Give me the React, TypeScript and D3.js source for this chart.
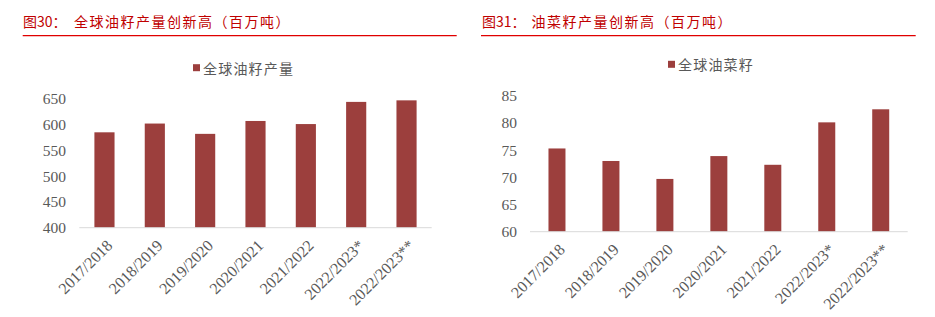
import React from "react";
import * as d3 from "d3";

const categories = ["2017/2018", "2018/2019", "2019/2020", "2020/2021", "2021/2022", "2022/2023*", "2022/2023**"];
const oilseedValues = [585, 602, 582, 607, 601, 644, 647];
const rapeseedValues = [75.3, 73.0, 69.7, 73.9, 72.3, 80.1, 82.5];
const oilseedTicks = [400, 450, 500, 550, 600, 650];
const rapeseedTicks = [60, 65, 70, 75, 80, 85];
const leftTitleNo = "图30：";
const leftTitle = "全球油籽产量创新高（百万吨）";
const rightTitleNo = "图31：";
const rightTitle = "油菜籽产量创新高（百万吨）";
const leftLegend = "全球油籽产量";
const rightLegend = "全球油菜籽";

const BAR = "#9c3f3d";
const GRAY = "#595959";
const TITLE_RED = "#c00000";
const LINE_RED = "#e00000";
const CJK = "'Noto Sans CJK SC', sans-serif";
const SERIF = "'Liberation Serif', 'Times New Roman', 'DejaVu Serif', serif";

type PanelProps = {
  values: number[];
  ticks: number[];
  domain: [number, number];
  yRange: [number, number];
  xRange: [number, number];
  padInner: number;
  tickX: number;
  titleNo: string;
  title: string;
  titleX: number;
  titleMainX: number;
  lineX: [number, number];
  legend: string;
  legendX: number;
  legendY: number;
};

function Panel(p: PanelProps) {
  const y = d3.scaleLinear().domain(p.domain).range(p.yRange);
  const x = d3
    .scaleBand<string>()
    .domain(categories)
    .range(p.xRange)
    .paddingInner(p.padInner)
    .paddingOuter(p.padInner / 2);
  const axisY = y(p.domain[0]);
  return (
    <g>
      <text x={p.titleX} y={21} dominantBaseline="central" fill={TITLE_RED} fontFamily={CJK} fontSize={14}>
        {p.titleNo}
      </text>
      <text x={p.titleMainX} y={21} dominantBaseline="central" fill={TITLE_RED} fontFamily={CJK} fontSize={14} letterSpacing={1.5}>
        {p.title}
      </text>
      <line x1={p.lineX[0]} x2={p.lineX[1]} y1={35.6} y2={35.6} stroke={LINE_RED} strokeWidth={1.2} />
      <rect x={p.legendX} y={p.legendY - 3.5} width={7} height={7} fill={BAR} />
      <text x={p.legendX + 10} y={p.legendY} dominantBaseline="central" fill={GRAY} fontFamily={CJK} fontSize={14} letterSpacing={1.2}>
        {p.legend}
      </text>
      {p.ticks.map((t) => (
        <text key={t} x={p.tickX} y={y(t)} textAnchor="end" dominantBaseline="central" fill={GRAY} fontFamily={SERIF} fontSize={15.5}>
          {t}
        </text>
      ))}
      {p.values.map((v, i) => (
        <rect
          key={i}
          x={x(categories[i])}
          y={y(v)}
          width={x.bandwidth()}
          height={axisY - y(v)}
          fill={BAR}
        />
      ))}
      <line x1={p.xRange[0]} x2={p.xRange[1]} y1={axisY} y2={axisY} stroke="#d9d9d9" strokeWidth={1} />
      {categories.map((c) => {
        const cx = (x(c) as number) + x.bandwidth() / 2 + 1;
        const cy = axisY + 11;
        return (
          <text
            key={c}
            x={cx}
            y={cy}
            textAnchor="end"
            dominantBaseline="hanging"
            transform={`rotate(-45 ${cx} ${cy})`}
            fill={GRAY}
            fontFamily={SERIF}
            fontSize={16}
          >
            {c}
          </text>
        );
      })}
    </g>
  );
}

export default function App() {
  return (
    <div style={{ position: "absolute", left: 0, top: 0 }}>
      <svg width={935} height={317} style={{ display: "block", background: "#fff" }}>
        <Panel
          values={oilseedValues}
          ticks={oilseedTicks}
          domain={[400, 650]}
          yRange={[227.7, 98.8]}
          xRange={[79.3, 431.7]}
          padInner={0.6}
          tickX={66}
          titleNo={leftTitleNo}
          title={leftTitle}
          titleX={23}
          titleMainX={74}
          lineX={[22.7, 456.7]}
          legend={leftLegend}
          legendX={193}
          legendY={67.7}
        />
        <Panel
          values={rapeseedValues}
          ticks={rapeseedTicks}
          domain={[60, 85]}
          yRange={[231.7, 95.7]}
          xRange={[530, 907.7]}
          padInner={0.685}
          tickX={517}
          titleNo={rightTitleNo}
          title={rightTitle}
          titleX={482}
          titleMainX={531.5}
          lineX={[481, 915.7]}
          legend={rightLegend}
          legendX={668}
          legendY={64.3}
        />
      </svg>
    </div>
  );
}
